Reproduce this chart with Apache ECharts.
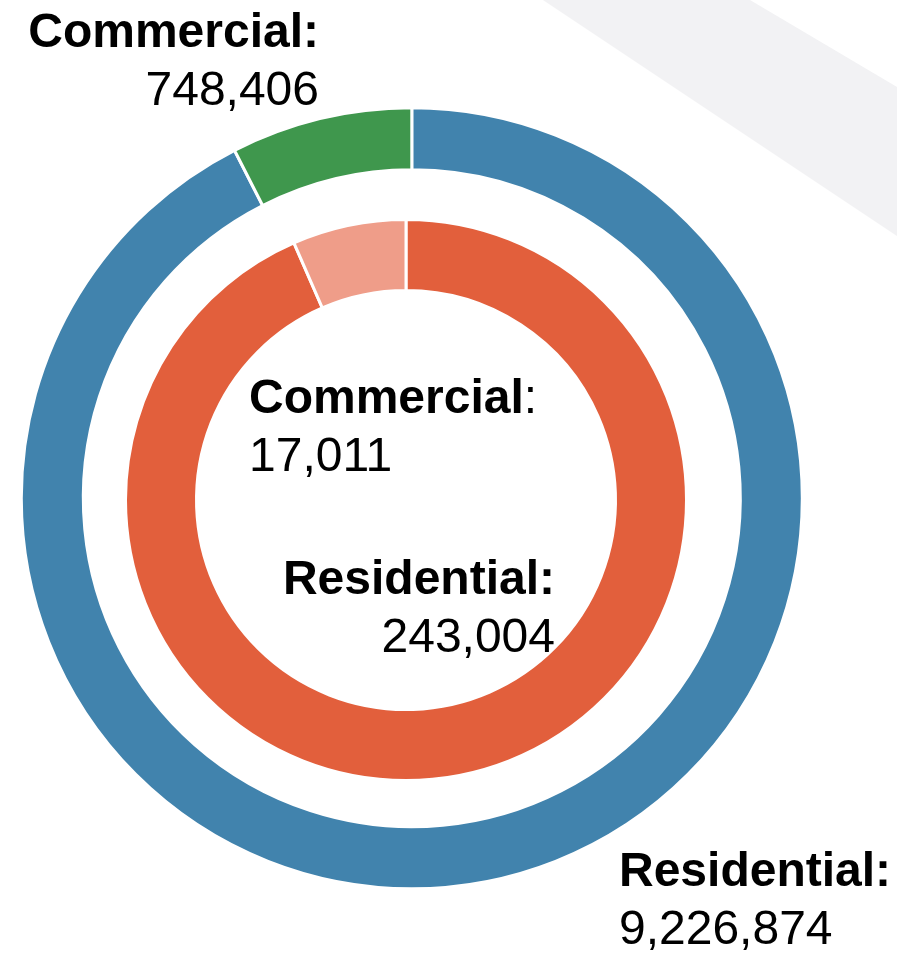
<!DOCTYPE html>
<html>
<head>
<meta charset="utf-8">
<title>Permits by type</title>
<script src="https://cdn.jsdelivr.net/npm/echarts@6/dist/echarts.min.js"></script>
<style>
  html, body { margin: 0; padding: 0; background: #ffffff; }
  #chart { width: 897px; height: 958px; }
</style>
</head>
<body>
<div id="chart"></div>
<script>
// Categories shared by both rings
const categories = ['Residential', 'Commercial'];
// Outer ring values
const outerValues = [9226874, 748406];
// Inner ring values
const innerValues = [243004, 17011];

const outerColors = ['#4183AD', '#3F974D'];
const innerColors = ['#E25F3C', '#EF9D89'];

const fmt = v => v.toLocaleString('en-US');
const FONT = '"Liberation Sans", Arial, sans-serif';

const rich = {
  b: { fontFamily: FONT, fontWeight: 'bold', fontSize: 48, lineHeight: 58, color: '#000' },
  n: { fontFamily: FONT, fontWeight: 'normal', fontSize: 48, lineHeight: 58, color: '#000' },
  v: { fontFamily: FONT, fontWeight: 'normal', fontSize: 48, lineHeight: 58, color: '#000' }
};

function richFor(align) {
  const r = {};
  Object.keys(rich).forEach(k => { r[k] = Object.assign({}, rich[k], { align: align }); });
  return r;
}

// label anchors per ring: [x, y, align]
const outerLabelPos = [[619, 902, 'left'], [319, 63, 'right']];
const innerLabelPos = [[555, 610, 'right'], [249, 429, 'left']];

const chart = echarts.init(document.getElementById('chart'), null, { renderer: 'canvas' });

chart.setOption({
  animation: false,
  backgroundColor: '#ffffff',
  graphic: [{
    type: 'polygon',
    z: -10,
    silent: true,
    shape: { points: [[543, 0], [750, 0], [897, 87], [897, 236]] },
    style: { fill: '#F2F2F4' }
  }],
  series: [
    {
      type: 'pie',
      name: 'outer',
      center: [411.8, 498.2],
      radius: [328.5, 390.5],
      startAngle: 90,
      clockwise: true,
      avoidLabelOverlap: false,
      itemStyle: { borderColor: '#ffffff', borderWidth: 3 },
      emphasis: { disabled: true },
      labelLine: { show: false },
      label: {
        show: true,
        position: 'outside',
        formatter: p => '{b|' + p.name + ':}\n{v|' + fmt(p.value) + '}'
      },
      labelLayout: p => {
        const pos = outerLabelPos[p.dataIndex];
        return { x: pos[0], y: pos[1], align: pos[2], verticalAlign: 'middle' };
      },
      data: categories.map((c, i) => ({
        name: c,
        value: outerValues[i],
        itemStyle: { color: outerColors[i] },
        label: { rich: richFor(outerLabelPos[i][2]) }
      }))
    },
    {
      type: 'pie',
      name: 'inner',
      center: [406, 500],
      radius: [209.5, 280.5],
      startAngle: 90,
      clockwise: true,
      avoidLabelOverlap: false,
      itemStyle: { borderColor: '#ffffff', borderWidth: 3 },
      emphasis: { disabled: true },
      labelLine: { show: false },
      label: {
        show: true,
        position: 'outside',
        formatter: p => p.dataIndex === 1
          ? '{b|' + p.name + '}{n|:}\n{v|' + fmt(p.value) + '}'
          : '{b|' + p.name + ':}\n{v|' + fmt(p.value) + '}'
      },
      labelLayout: p => {
        const pos = innerLabelPos[p.dataIndex];
        return { x: pos[0], y: pos[1], align: pos[2], verticalAlign: 'middle' };
      },
      data: categories.map((c, i) => ({
        name: c,
        value: innerValues[i],
        itemStyle: { color: innerColors[i] },
        label: { rich: richFor(innerLabelPos[i][2]) }
      }))
    }
  ]
});
</script>
</body>
</html>
